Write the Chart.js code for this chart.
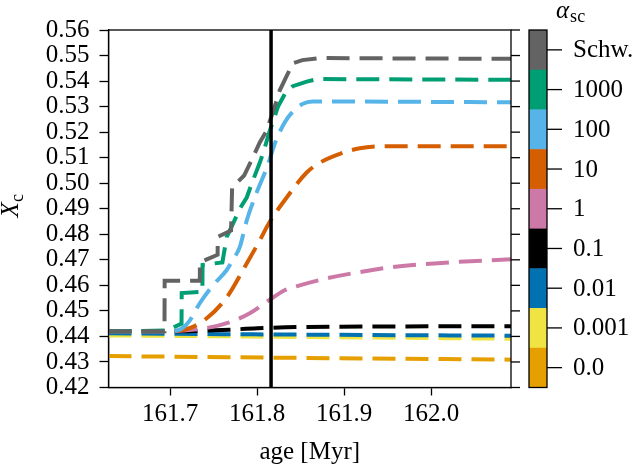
<!DOCTYPE html>
<html>
<head>
<meta charset="utf-8">
<script src="https://cdn.jsdelivr.net/npm/chart.js@4.4.1/dist/chart.umd.min.js"></script>
<style>
    html, body { margin: 0; padding: 0; background: #ffffff; }
    canvas { display: block; }
</style>
</head>
<body>
<canvas id="chart" width="638" height="473"></canvas>
<script>
//------
//Данные
//------

//Ticks and colorbar labels
const ageTicks = [161.7, 161.8, 161.9, 162.0];
const xcTicks = [0.42, 0.43, 0.44, 0.45, 0.46, 0.47, 0.48, 0.49, 0.5, 0.51, 0.52, 0.53, 0.54, 0.55, 0.56];
const alphaLabels = ["Schw.", "1000", "100", "10", "1", "0.1", "0.01", "0.001", "0.0"];

//Age marker (vertical line)
const ageMarker = 161.816;

//Schwarzschild
const ageSchw = [161.629, 161.6934, 161.6936, 161.734, 161.7342, 161.7545, 161.7547, 161.770, 161.7712, 161.785, 161.795,
    161.803, 161.810, 161.816, 161.822, 161.826, 161.834, 161.841, 161.852, 161.872, 162.092];
const xcSchw = [0.4420, 0.4420, 0.4618, 0.4618, 0.4690, 0.4720, 0.4790, 0.4815, 0.4984, 0.5030, 0.5100,
    0.5160, 0.5200, 0.5257, 0.5320, 0.5364, 0.5420, 0.5470, 0.5482, 0.5490, 0.5487];

//alpha_sc = 1000
const age1000 = [161.629, 161.696, 161.713, 161.7132, 161.737, 161.7372, 161.760, 161.765, 161.772, 161.780, 161.788,
    161.795, 161.803, 161.808, 161.814, 161.818, 161.824, 161.832, 161.841, 161.857, 161.870, 162.092];
const xc1000 = [0.4420, 0.4423, 0.4450, 0.4570, 0.4575, 0.4680, 0.4690, 0.4790, 0.4840, 0.4900, 0.4944,
    0.5010, 0.5080, 0.5130, 0.5200, 0.5240, 0.5300, 0.5350, 0.5380, 0.5398, 0.5408, 0.5405];

//alpha_sc = 100
const age100 = [161.629, 161.700, 161.713, 161.722, 161.734, 161.749, 161.765, 161.772, 161.780, 161.788, 161.799,
    161.811, 161.822, 161.832, 161.841, 161.852, 161.864, 162.092];
const xc100 = [0.4420, 0.4420, 0.4430, 0.4460, 0.4530, 0.4600, 0.4660, 0.4700, 0.4750, 0.4854, 0.4960,
    0.5060, 0.5170, 0.5240, 0.5280, 0.5310, 0.5320, 0.5317];

//alpha_sc = 10
const age10 = [161.629, 161.697, 161.722, 161.742, 161.765, 161.788, 161.803, 161.814, 161.834, 161.857, 161.872,
    161.895, 161.918, 161.950, 162.092];
const xc10 = [0.4420, 0.4420, 0.4432, 0.4471, 0.4553, 0.4686, 0.4776, 0.4846, 0.4944, 0.5042, 0.5080,
    0.5115, 0.5137, 0.5145, 0.5145];

//alpha_sc = 1
const age1 = [161.629, 161.690, 161.740, 161.768, 161.791, 161.815, 161.831, 161.849, 161.877, 161.906, 161.964,
    162.022, 162.092];
const xc1 = [0.4420, 0.4420, 0.4432, 0.4455, 0.4490, 0.4545, 0.4580, 0.4600, 0.4625, 0.4645, 0.4675,
    0.4690, 0.4702];

//alpha_sc = 0.1
const age01 = [161.629, 161.700, 161.760, 161.800, 161.850, 162.092];
const xc01 = [0.4420, 0.4420, 0.4425, 0.4432, 0.4437, 0.4440];

//alpha_sc = 0.01
const age001 = [161.629, 161.850, 162.092];
const xc001 = [0.4412, 0.4407, 0.4403];

//alpha_sc = 0.001
const age0001 = [161.629, 161.850, 162.092];
const xc0001 = [0.4404, 0.4398, 0.4391];

//alpha_sc = 0.0
const age0 = [161.629, 161.850, 162.092];
const xc0 = [0.4323, 0.4316, 0.4309];

//---------
//Константы
//---------

const FONT = "Liberation Serif";
const FONT_SIZE = 25;
const TICK_LEN = 9;

//Series in colorbar order (first one drawn on top)
const SERIES = [
    { ages: ageSchw, xc: xcSchw, color: "#636363", smooth: false },
    { ages: age1000, xc: xc1000, color: "#009E73", smooth: false },
    { ages: age100, xc: xc100, color: "#56B4E9", smooth: true },
    { ages: age10, xc: xc10, color: "#D55E00", smooth: true },
    { ages: age1, xc: xc1, color: "#CC79A7", smooth: true },
    { ages: age01, xc: xc01, color: "#000000", smooth: true },
    { ages: age001, xc: xc001, color: "#0072B2", smooth: true },
    { ages: age0001, xc: xc0001, color: "#F0E442", smooth: true },
    { ages: age0, xc: xc0, color: "#E69F00", smooth: true }
];

//-----------
//Тело модуля
//-----------

//Line datasets
const lineSets = SERIES.map((s, i) => ({
    label: alphaLabels[i],
    data: s.ages.map((a, j) => ({ x: a, y: s.xc[j] })),
    borderColor: s.color,
    borderWidth: 4,
    borderDash: [23, 10],
    borderCapStyle: "butt",
    pointRadius: 0,
    showLine: true,
    fill: false,
    tension: 0,
    cubicInterpolationMode: s.smooth ? "monotone" : "default"
}));

//Vertical marker
const markerSet = {
    label: "marker",
    data: [{ x: ageMarker, y: xcTicks[0] }, { x: ageMarker, y: xcTicks[xcTicks.length - 1] }],
    borderColor: "#000000",
    borderWidth: 3.5,
    pointRadius: 0,
    showLine: true,
    fill: false
};

//Frame, right ticks, axis label and colorbar
const decorPlugin = {
    id: "decor",
    afterDraw(chart) {
        const { ctx, chartArea: a, scales } = chart;
        ctx.save();
        ctx.strokeStyle = "#000";
        ctx.lineWidth = 1.3;
        ctx.strokeRect(a.left, a.top, a.right - a.left, a.bottom - a.top);
        xcTicks.forEach(v => {
            const y = scales.y.getPixelForValue(v);
            ctx.beginPath();
            ctx.moveTo(a.right, y);
            ctx.lineTo(a.right + TICK_LEN, y);
            ctx.stroke();
        });

        //Y axis title X_c
        ctx.fillStyle = "#000";
        ctx.save();
        ctx.translate(18, (a.top + a.bottom) / 2 - 3);
        ctx.rotate(-Math.PI / 2);
        ctx.textBaseline = "alphabetic";
        ctx.font = `italic ${FONT_SIZE}px "${FONT}"`;
        const wX = ctx.measureText("X").width;
        ctx.font = `18px "${FONT}"`;
        const wC = ctx.measureText("c").width;
        const x0 = -(wX + wC) / 2;
        ctx.font = `italic ${FONT_SIZE}px "${FONT}"`;
        ctx.textAlign = "left";
        ctx.fillText("X", x0, 0);
        ctx.font = `18px "${FONT}"`;
        ctx.fillText("c", x0 + wX, 5);
        ctx.restore();

        //Colorbar
        const cbLeft = a.right + 18;
        const cbWidth = 18;
        const h = (a.bottom - a.top) / SERIES.length;
        SERIES.forEach((s, i) => {
            ctx.fillStyle = s.color;
            ctx.fillRect(cbLeft, a.top + i * h, cbWidth, h + 0.5);
        });
        ctx.strokeRect(cbLeft, a.top, cbWidth, a.bottom - a.top);
        ctx.fillStyle = "#000";
        ctx.font = `${FONT_SIZE}px "${FONT}"`;
        ctx.textAlign = "left";
        ctx.textBaseline = "middle";
        alphaLabels.forEach((lbl, i) => {
            const y = a.top + (i + 0.5) * h;
            ctx.beginPath();
            ctx.moveTo(cbLeft + cbWidth, y);
            ctx.lineTo(cbLeft + cbWidth + 15, y);
            ctx.stroke();
            ctx.fillText(lbl, cbLeft + cbWidth + 26, y + 1);
        });

        //Colorbar title alpha_sc
        ctx.textBaseline = "alphabetic";
        ctx.font = `italic ${FONT_SIZE}px "${FONT}"`;
        ctx.fillText("α", 556, 18);
        const wA = ctx.measureText("α").width;
        ctx.font = `18px "${FONT}"`;
        ctx.fillText("sc", 556 + wA + 1, 22);
        ctx.restore();
    }
};

//График
new Chart(document.getElementById("chart").getContext("2d"), {
    type: "scatter",
    data: { datasets: [markerSet, ...lineSets] },
    plugins: [decorPlugin],
    options: {
        responsive: false,
        animation: false,
        events: [],
        layout: { autoPadding: false, padding: { left: 0, top: 30, right: 127, bottom: 0 } },
        plugins: { legend: { display: false }, tooltip: { enabled: false } },
        scales: {
            x: {
                type: "linear",
                min: 161.629,
                max: 162.092,
                afterFit: s => { s.height = 85.5; },
                afterBuildTicks: s => { s.ticks = ageTicks.map(v => ({ value: v })); },
                grid: { drawOnChartArea: false, tickLength: 8, tickWidth: 1.3, tickColor: "#000" },
                border: { color: "#000", width: 1.3 },
                ticks: {
                    color: "#000",
                    padding: 4,
                    maxRotation: 0,
                    autoSkip: false,
                    font: { family: FONT, size: FONT_SIZE },
                    callback: v => v.toFixed(1)
                },
                title: {
                    display: true,
                    text: "age [Myr]",
                    color: "#000",
                    font: { family: FONT, size: FONT_SIZE },
                    padding: { top: 0, bottom: 6 }
                }
            },
            y: {
                type: "linear",
                min: 0.42,
                max: 0.56,
                afterFit: s => { s.width = 108.5; },
                afterBuildTicks: s => { s.ticks = xcTicks.map(v => ({ value: v })); },
                grid: { drawOnChartArea: false, tickLength: TICK_LEN, tickWidth: 1.3, tickColor: "#000" },
                border: { color: "#000", width: 1.3 },
                ticks: {
                    color: "#000",
                    padding: 10,
                    autoSkip: false,
                    font: { family: FONT, size: FONT_SIZE },
                    callback: v => v.toFixed(2)
                }
            }
        }
    }
});
</script>
</body>
</html>
